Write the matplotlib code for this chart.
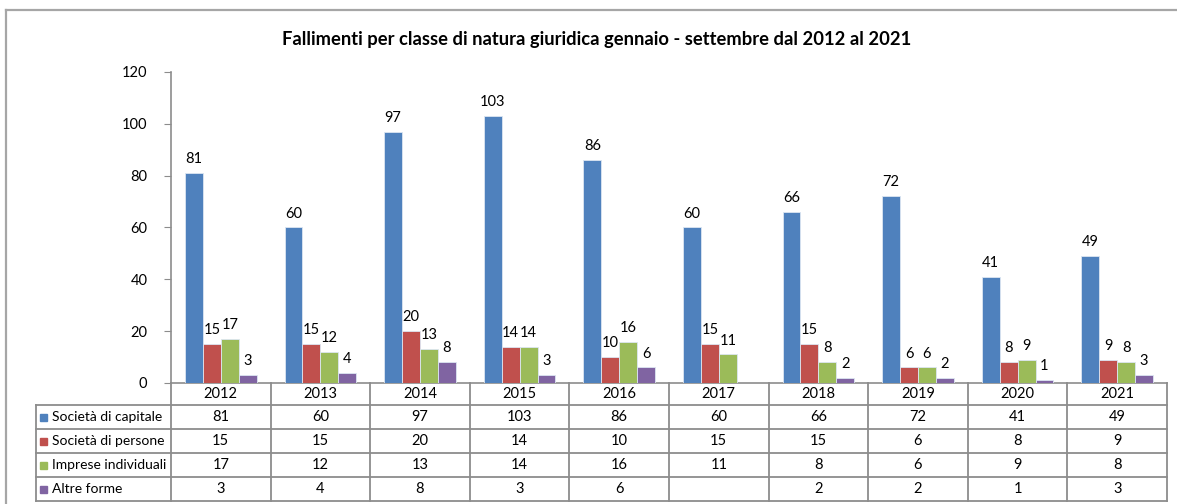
import numpy as np
import matplotlib
matplotlib.use('Agg')
import matplotlib.pyplot as plt
from matplotlib.lines import Line2D
from matplotlib.patches import Rectangle

plt.rcParams['font.family'] = ['Lato', 'DejaVu Sans']

# ── dati ────────────────────────────────────────────
anni = ['2012', '2013', '2014', '2015', '2016', '2017', '2018', '2019', '2020', '2021']
serie = ['Società di capitale', 'Società di persone', 'Imprese individuali', 'Altre forme']
capitale = [81, 60, 97, 103, 86, 60, 66, 72, 41, 49]
persone = [15, 15, 20, 14, 10, 15, 15, 6, 8, 9]
individuali = [17, 12, 13, 14, 16, 11, 8, 6, 9, 8]
altre = [3, 4, 8, 3, 6, np.nan, 2, 2, 1, 3]
valori = [capitale, persone, individuali, altre]
colori = ['#4F81BD', '#C0504D', '#9BBB59', '#8064A2']
titolo = 'Fallimenti per classe di natura giuridica gennaio - settembre dal 2012 al 2021'

W, H = 1177, 504
GRIGIO = '#8C8C8C'
fig = plt.figure(figsize=(W / 100, H / 100), dpi=100)
fig.patch.set_facecolor('white')

def fx(px):
    return px / W

def fy(py):
    return 1 - py / H

# cornice esterna
fig.add_artist(Line2D([fx(6), 1], [fy(10), fy(10)], color='#A6A6A6', lw=1.6))
fig.add_artist(Line2D([fx(6), fx(6)], [0, fy(10)], color='#A6A6A6', lw=1.6))

fig.text(fx(597), fy(40), titolo, ha='center', va='center',
         fontsize=13.2, fontweight='bold', color='black')

# ── grafico a barre ─────────────────────────────────
x0, x1, y0, y1 = 171, 1167, 383, 72
ax = fig.add_axes([fx(x0), fy(y0), fx(x1 - x0), (y0 - y1) / H])
ax.set_xlim(0, len(anni))
ax.set_ylim(0, 120)

bw = 0.18
xc = np.arange(len(anni)) + 0.5
for k, (vals, col) in enumerate(zip(valori, colori)):
    xs = xc + (k - 1.5) * bw
    v = np.array(vals, dtype=float)
    ok = ~np.isnan(v)
    ax.bar(xs[ok], v[ok], width=bw, color=col, edgecolor='#DCE6F2', lw=0.6, zorder=3)
    for xi, vi in zip(xs[ok], v[ok]):
        ax.annotate(f'{vi:.0f}', (xi, vi), xytext=(0, 5), textcoords='offset points',
                    ha='center', va='bottom', fontsize=10.5, color='black')

for s in ['top', 'right']:
    ax.spines[s].set_visible(False)
for s in ['left', 'bottom']:
    ax.spines[s].set_color(GRIGIO)
    ax.spines[s].set_linewidth(1.2)
ax.set_yticks(np.arange(0, 121, 20))
ax.tick_params(axis='y', direction='out', length=5, color=GRIGIO, labelsize=10.5, pad=12)
ax.set_xticks([])

# ── tabella dati ────────────────────────────────────
tl, tb = 36, 501
ax_t = fig.add_axes([fx(tl), fy(tb), fx(x1 - tl), (tb - y0) / H])
cw = (x1 - x0) / len(anni)
xl = -(x0 - tl) / cw
ax_t.set_xlim(xl, len(anni))
ax_t.set_ylim(0, tb - y0)
ax_t.axis('off')

righe = [96, 72, 48, 24, 0]
hdr_top = tb - y0
lk = dict(color=GRIGIO, lw=1.3, clip_on=False)
for yr in righe:
    ax_t.plot([xl, len(anni)], [yr, yr], **lk)
for i in range(len(anni) + 1):
    ax_t.plot([i, i], [0, hdr_top], **lk)
ax_t.plot([xl, xl], [0, righe[0]], **lk)

for i, a in enumerate(anni):
    ax_t.text(i + 0.5, (hdr_top + righe[0]) / 2, a, ha='center', va='center', fontsize=10.5)

for r, (nome, vals, col) in enumerate(zip(serie, valori, colori)):
    yc = (righe[r] + righe[r + 1]) / 2
    ax_t.add_patch(Rectangle((xl + 4 / cw, yc - 3.5), 7 / cw, 7, color=col, clip_on=False))
    ax_t.text(xl + 16 / cw, yc, nome, ha='left', va='center', fontsize=10)
    for i, v in enumerate(vals):
        if not np.isnan(v):
            ax_t.text(i + 0.5, yc, f'{v:.0f}', ha='center', va='center', fontsize=10.5)

fig.savefig('out.png', dpi=100, facecolor='white')
